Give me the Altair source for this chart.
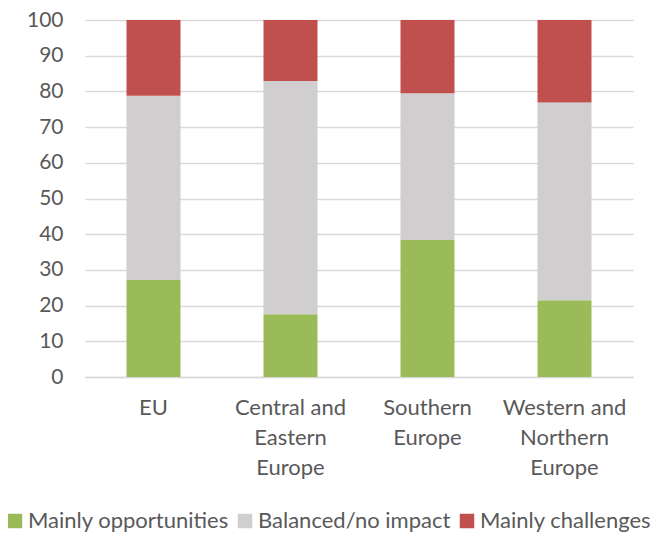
import altair as alt
import pandas as pd

regions = ["EU", "Central and Eastern Europe", "Southern Europe", "Western and Northern Europe"]
series = ["Mainly opportunities", "Balanced/no impact", "Mainly challenges"]
opportunities = [27.2, 17.6, 38.4, 21.5]
balanced = [51.6, 65.3, 41.1, 55.4]
challenges = [21.2, 17.1, 20.5, 23.1]
colors = ["#9BBB59", "#D0CECE", "#C0504D"]

rows = []
for i, r in enumerate(regions):
    for j, (s, vals) in enumerate(zip(series, [opportunities, balanced, challenges])):
        rows.append({"region": r, "series": s, "value": vals[i], "order": j})
df = pd.DataFrame(rows)

label_expr = ("datum.label == 'Central and Eastern Europe' ? ['Central and', 'Eastern', 'Europe'] : "
              "datum.label == 'Southern Europe' ? ['Southern', 'Europe'] : "
              "datum.label == 'Western and Northern Europe' ? ['Western and', 'Northern', 'Europe'] : datum.label")

font = "Lato"
chart = alt.Chart(df).mark_bar(size=54).encode(
    x=alt.X("region:N", sort=regions, title=None,
            scale=alt.Scale(paddingInner=0.6, paddingOuter=0.3),
            axis=alt.Axis(labelAngle=0, labelExpr=label_expr, labelFontSize=22, labelColor="#595959",
                          labelFont=font, labelPadding=20, labelLineHeight=30, ticks=False,
                          domain=True, domainColor="#D9D9D9", domainWidth=1.5, labelBaseline="top")),
    y=alt.Y("value:Q", stack="zero", title=None,
            scale=alt.Scale(domain=[0, 100], nice=False),
            axis=alt.Axis(values=list(range(0, 101, 10)), labelFontSize=21, labelColor="#595959",
                          labelFont=font, labelPadding=22, ticks=False, domain=False,
                          gridColor="#D9D9D9", gridWidth=1.5)),
    color=alt.Color("series:N", sort=series, scale=alt.Scale(domain=series, range=colors),
                    legend=alt.Legend(title=None, orient="none", legendX=-81, legendY=490,
                                      direction="horizontal", padding=0,
                                      symbolType="square", symbolSize=210, symbolStrokeWidth=0,
                                      labelFontSize=22, labelColor="#595959", labelFont=font,
                                      columnPadding=5, symbolOffset=0, labelOffset=2,
                                      labelLimit=300)),
    order=alt.Order("order:Q"),
).properties(
    width=548, height=357,
    padding={"left": 77, "top": 12, "right": 25, "bottom": 157},
    autosize=alt.AutoSizeParams(type="none"),
    background="white"
).configure_view(stroke=None)

chart.save("out.html", embed_options={"renderer": "svg", "actions": False})
